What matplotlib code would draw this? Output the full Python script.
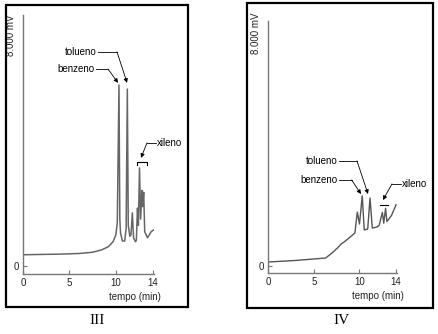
import matplotlib.pyplot as plt
from matplotlib.patches import Rectangle

# --- data ---
# panel III : time (min) / signal (mV)
t_III = [0, 4, 6, 7.5, 8.5, 9.2, 9.7, 10.0, 10.15, 10.33, 10.42, 10.5, 10.7,
         10.95, 11.1, 11.23, 11.33, 11.5, 11.62, 11.77, 11.9, 12.1, 12.2,
         12.32, 12.42, 12.54, 12.66, 12.8, 12.88, 12.99, 13.1, 13.4, 13.8, 14.03]
v_III = [360, 380, 400, 440, 520, 620, 780, 1000, 1400, 5790, 1500, 1050, 800,
         800, 1200, 5660, 1300, 950, 1000, 1700, 900, 780, 820,
         1850, 1300, 3140, 1500, 2420, 1900, 2360, 1100, 900, 1100, 1150]

# panel IV
t_IV = [0, 3, 6.3, 7.0, 7.6, 8.0, 8.3, 8.6, 9.0, 9.5, 9.76, 10.0, 10.3, 10.52,
        10.9, 11.15, 11.4, 11.9, 12.15, 12.5, 12.65, 12.85, 13.0, 13.5, 14.0]
v_IV = [130, 180, 260, 425, 590, 720, 780, 850, 950, 1080, 1760, 1370, 2290, 1175,
        1210, 2220, 1240, 1270, 1330, 1750, 1400, 1880, 1450, 1650, 2000]

xticks = [0, 5, 10, 14]
xtick_labels = ['0', '5', '10', '14']
panel_names = ['III', 'IV']

W, H = 438, 334
fig = plt.figure(figsize=(W / 100, H / 100), dpi=100)
plt.rcParams['font.family'] = ['Liberation Sans', 'DejaVu Sans']


def fx(x):
    return x / W


def fy(y):
    return 1 - y / H


# frames around each panel
for (x0, y0, x1, y1) in [(6, 5, 188, 307), (247, 3, 433, 308)]:
    fig.patches.append(Rectangle((fx(x0), fy(y1)), fx(x1 - x0), (y1 - y0) / H,
                                 transform=fig.transFigure, fill=False,
                                 edgecolor='black', linewidth=1.6))


def make_axes(left, right, bottom, top, ylo, yhi):
    ax = fig.add_axes([fx(left), fy(bottom), fx(right - left), (bottom - top) / H])
    ax.set_xlim(0, 14.1)
    ax.set_ylim(ylo, yhi)
    for s in ['top', 'right']:
        ax.spines[s].set_visible(False)
    for s in ['left', 'bottom']:
        ax.spines[s].set_color('#777777')
        ax.spines[s].set_linewidth(1.0)
    ax.set_xticks(xticks)
    ax.set_xticklabels(xtick_labels)
    ax.set_yticks([0])
    ax.set_yticklabels(['0'])
    ax.tick_params(direction='in', length=3, width=0.8, color='#777777',
                   labelsize=7, labelcolor='#222222', pad=3)
    ax.patch.set_alpha(0)
    return ax


axL = make_axes(23, 154, 274, 15, -256, 8030)
axR = make_axes(268, 397, 273, 21, -229, 8000)

axL.plot(t_III, v_III, color='#666666', lw=1.1)
axR.plot(t_IV, v_IV, color='#555555', lw=1.0)

# y label sits at the top of each axis (right one a little higher)
for ax, up in [(axL, 0.0), (axR, 0.035)]:
    ax.text(-0.055, 1.0 + up, '8.000 mV', transform=ax.transAxes,
            rotation=90, ha='right', va='top', fontsize=7, color='#222222')
    ax.text(1.05, -0.07, 'tempo (min)', transform=ax.transAxes,
            ha='right', va='top', fontsize=7, color='#222222')

arrow = dict(arrowstyle='-|>', color='black', lw=0.6, mutation_scale=6,
             shrinkA=0, shrinkB=0)


def label(ax, text, tx, ty, elbow_x, tip, side='left'):
    if side == 'left':
        ax.text(tx, ty, text, ha='right', va='center', fontsize=7)
        ax.plot([tx + 0.12, elbow_x], [ty, ty], color='black', lw=0.6, clip_on=False)
    else:
        ax.text(tx, ty, text, ha='left', va='center', fontsize=7)
        ax.plot([tx - 0.12, elbow_x], [ty, ty], color='black', lw=0.6, clip_on=False)
    ax.annotate('', xy=tip, xytext=(elbow_x, ty), arrowprops=arrow,
                annotation_clip=False)


label(axL, 'tolueno', 7.97, 6850, 10.12, (11.2, 5860))
label(axL, 'benzeno', 7.75, 6300, 9.15, (10.23, 5860))
label(axL, 'xileno', 14.42, 3940, 13.35, (12.7, 3460), side='right')
# bracket over the xylene group
axL.plot([12.27, 12.27, 13.35, 13.35], [3230, 3330, 3330, 3230],
         color='black', lw=0.8, clip_on=False)

label(axR, 'tolueno', 7.65, 3430, 9.73, (10.93, 2350))
label(axR, 'benzeno', 7.6, 2810, 9.14, (10.16, 2350))
label(axR, 'xileno', 14.64, 2680, 13.55, (12.57, 2155), side='right')
axR.plot([12.24, 13.11], [1990, 1990], color='black', lw=0.8, clip_on=False)

for name, cx in zip(panel_names, [97, 341]):
    fig.text(fx(cx), fy(320), name, ha='center', va='center', fontsize=11,
             family='Liberation Serif')

fig.savefig('out.png', dpi=100)
